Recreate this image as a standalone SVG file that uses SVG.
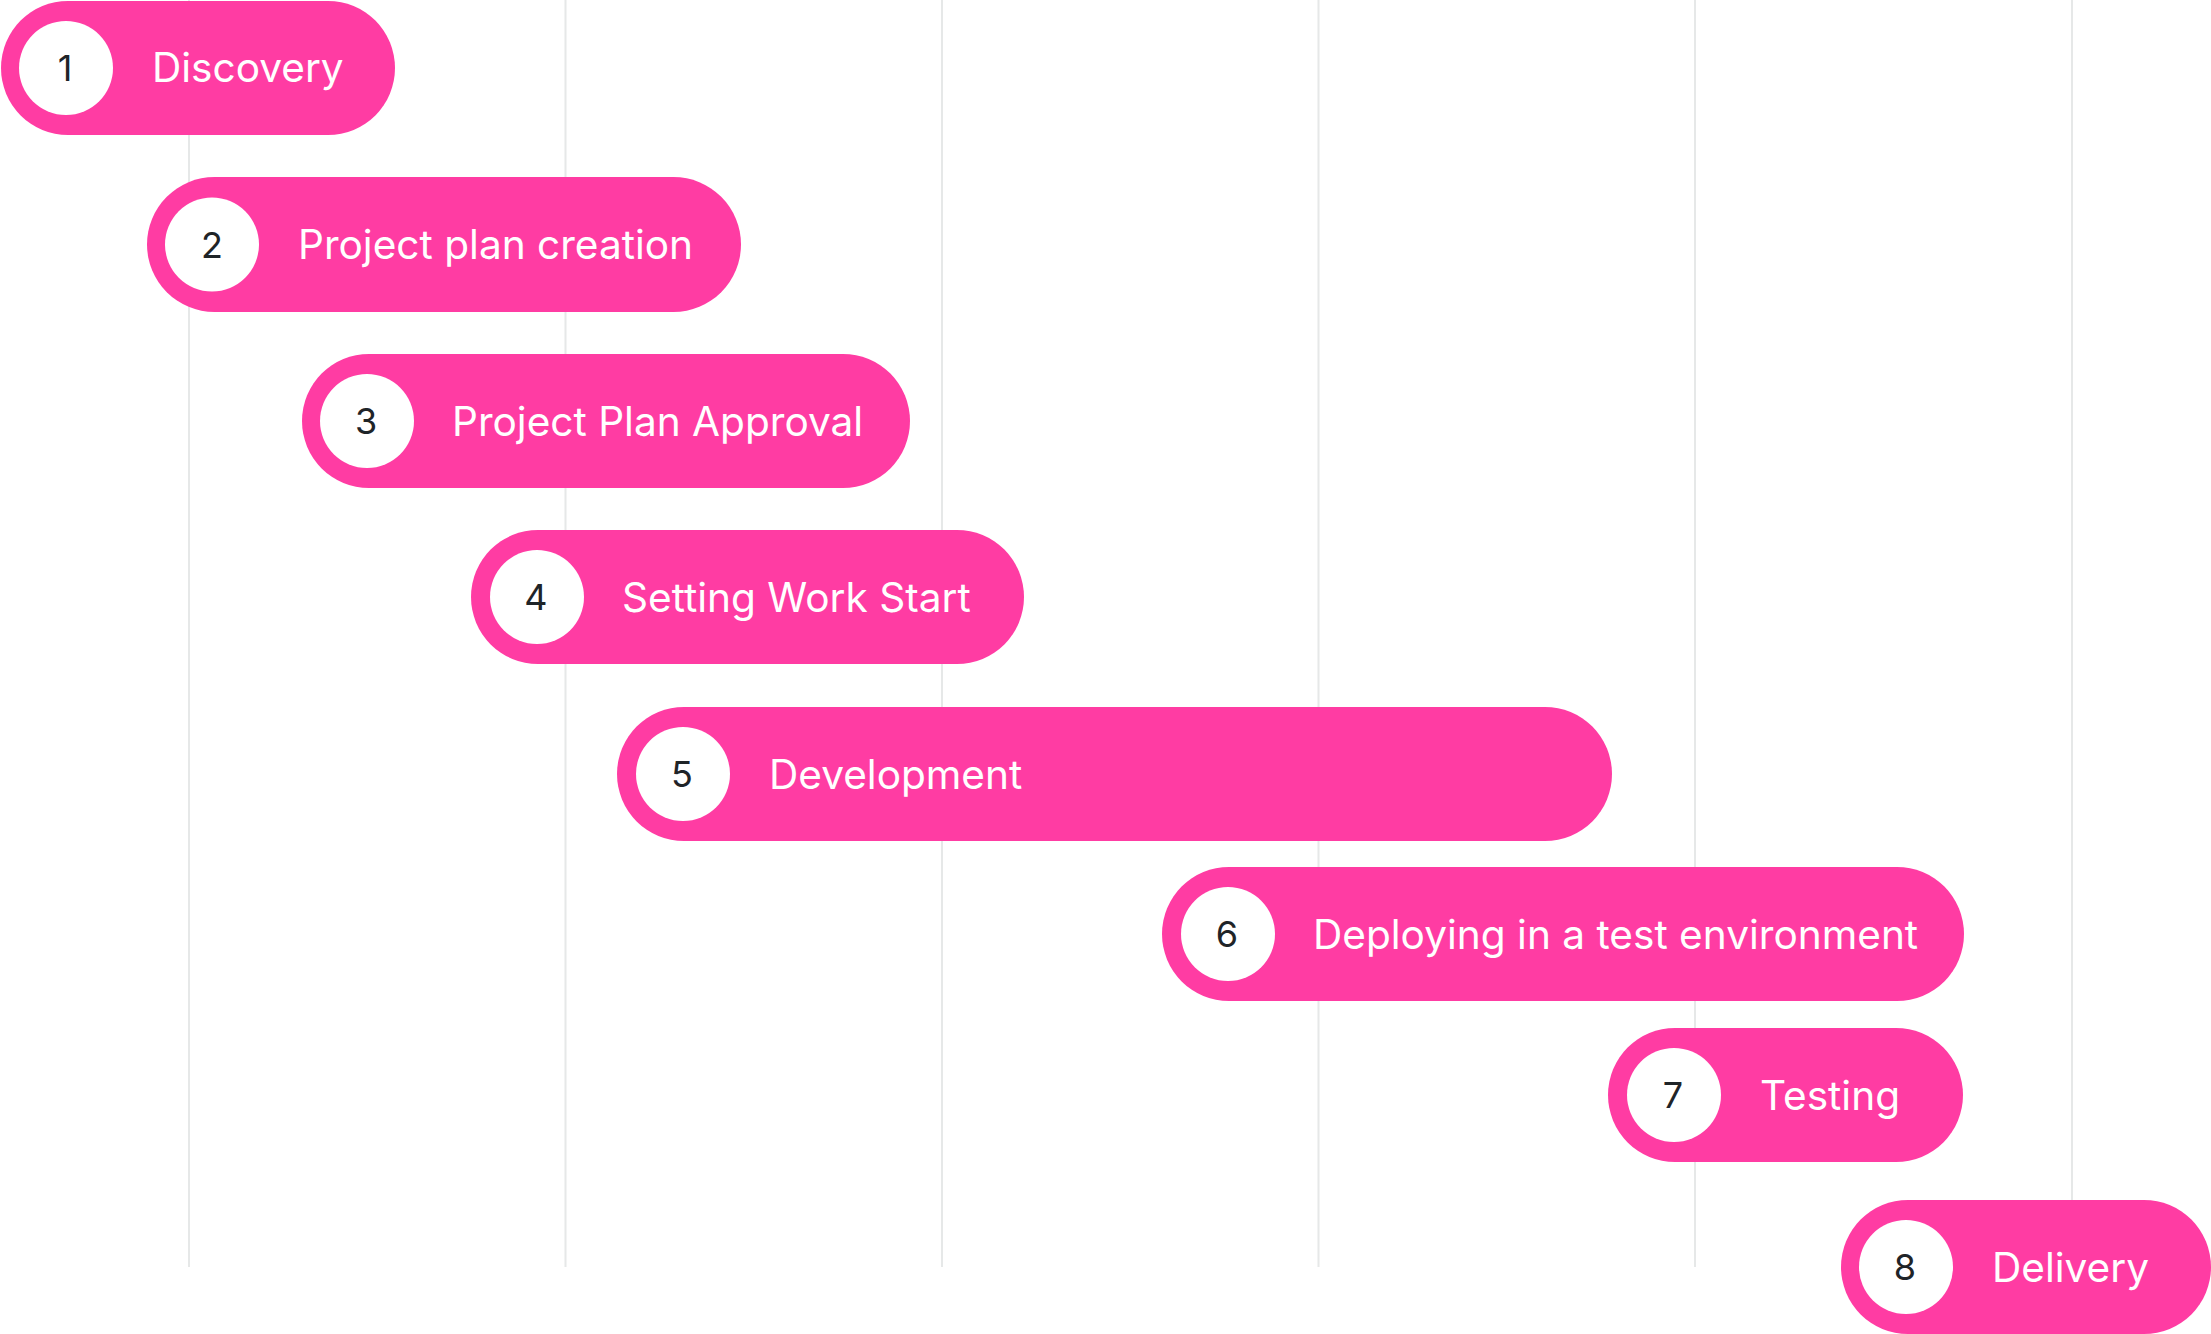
<svg xmlns="http://www.w3.org/2000/svg" width="2211" height="1334" viewBox="0 0 2211 1334">
<style>
.grid{stroke:#e6e8e8;stroke-width:2}
.bar{fill:#ff3ca3}
.dot{fill:#ffffff}
.num{font-family:Inter,"Liberation Sans",sans-serif;font-size:36px;fill:#1f2428;text-anchor:middle}
.lbl{font-family:Inter,"Liberation Sans",sans-serif;font-size:40.6px;fill:#ffffff}
</style>
<rect width="2211" height="1334" fill="#ffffff"/>
<g id="grid">
<line class="grid" x1="189" y1="0" x2="189" y2="1267"/>
<line class="grid" x1="565.5" y1="0" x2="565.5" y2="1267"/>
<line class="grid" x1="942" y1="0" x2="942" y2="1267"/>
<line class="grid" x1="1318.5" y1="0" x2="1318.5" y2="1267"/>
<line class="grid" x1="1695" y1="0" x2="1695" y2="1267"/>
<line class="grid" x1="2072" y1="0" x2="2072" y2="1267"/>
</g>
<g id="connectors"></g>
<g id="task1">
<rect class="bar" x="1" y="1" width="394" height="134" rx="67"/>
<circle class="dot" cx="66" cy="68" r="47"/>
<text class="num" x="65" y="81">1</text>
<text class="lbl" x="152" y="82">Discovery</text>
</g>
<g id="task2">
<rect class="bar" x="147" y="177" width="594" height="135" rx="67.5"/>
<circle class="dot" cx="212" cy="244.5" r="47"/>
<text class="num" x="212" y="257.5">2</text>
<text class="lbl" x="298" y="259">Project plan creation</text>
</g>
<g id="task3">
<rect class="bar" x="302" y="354" width="608" height="134" rx="67"/>
<circle class="dot" cx="367" cy="421" r="47"/>
<text class="num" x="366" y="434">3</text>
<text class="lbl" x="452" y="436">Project Plan Approval</text>
</g>
<g id="task4">
<rect class="bar" x="471" y="530" width="553" height="134" rx="67"/>
<circle class="dot" cx="537" cy="597" r="47"/>
<text class="num" x="536" y="610">4</text>
<text class="lbl" x="622" y="612">Setting Work Start</text>
</g>
<g id="task5">
<rect class="bar" x="617" y="707" width="995" height="134" rx="67"/>
<circle class="dot" cx="683" cy="774" r="47"/>
<text class="num" x="682" y="787">5</text>
<text class="lbl" x="769" y="789">Development</text>
</g>
<g id="task6">
<rect class="bar" x="1162" y="867" width="802" height="134" rx="67"/>
<circle class="dot" cx="1228" cy="934" r="47"/>
<text class="num" x="1227" y="947">6</text>
<text class="lbl" x="1313" y="949">Deploying in a test environment</text>
</g>
<g id="task7">
<rect class="bar" x="1608" y="1028" width="355" height="134" rx="67"/>
<circle class="dot" cx="1674" cy="1095" r="47"/>
<text class="num" x="1673" y="1108">7</text>
<text class="lbl" x="1760" y="1110">Testing</text>
</g>
<g id="task8">
<rect class="bar" x="1841" y="1200" width="370" height="134" rx="67"/>
<circle class="dot" cx="1906" cy="1267" r="47"/>
<text class="num" x="1905" y="1280">8</text>
<text class="lbl" x="1992" y="1282">Delivery</text>
</g>
</svg>
